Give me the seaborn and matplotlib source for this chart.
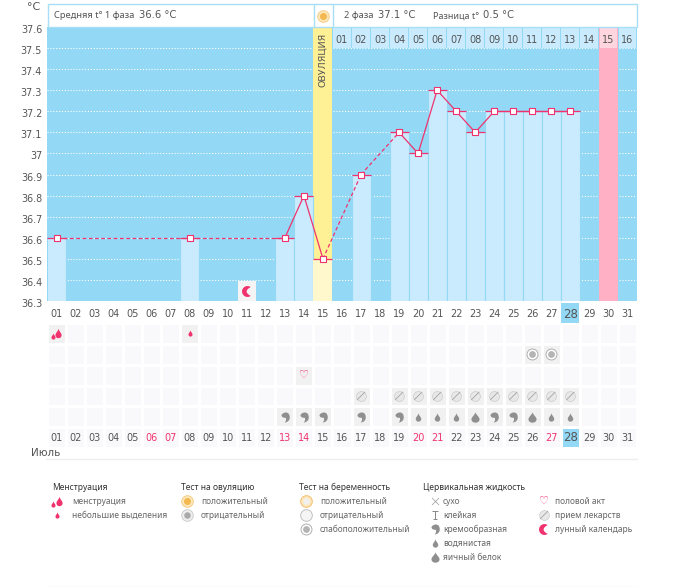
import numpy as np
import pandas as pd
import matplotlib
matplotlib.use("Agg")
import matplotlib.pyplot as plt
from matplotlib.colors import ListedColormap
from matplotlib.patches import Rectangle
from matplotlib.path import Path
from matplotlib.transforms import ScaledTranslation
import seaborn as sns

sns.set_theme(style="white")
plt.rcParams["font.family"] = ["DejaVu Sans"]

BG = "#93d8f5"
BAR = "#c9ebfd"
PINK = "#f0336e"
TEXT = "#555555"
GREY = "#8f8f8f"
SMALL_FONT = "Noto Sans"

# temperature chart
temp_days = [1, 8, 13, 14, 15, 17, 19, 20, 21, 22, 23, 24, 25, 26, 27, 28]
temps = [36.6, 36.6, 36.6, 36.8, 36.5, 36.9, 37.1, 37.0, 37.3, 37.2, 37.1, 37.2, 37.2, 37.2, 37.2, 37.2]
all_days = list(range(1, 32))
weekend_days = [6, 7, 13, 14, 20, 21, 27]
today = 28
ovulation_day = 15
cycle_days = list(range(16, 32))
cycle_labels = [f"{i:02d}" for i in range(1, 17)]
period_day = 30
moon_day = 11
y_ticks = [36.3, 36.4, 36.5, 36.6, 36.7, 36.8, 36.9, 37.0, 37.1, 37.2, 37.3, 37.4, 37.5, 37.6]
y_labels = ["36.3", "36.4", "36.5", "36.6", "36.7", "36.8", "36.9", "37", "37.1", "37.2", "37.3", "37.4", "37.5", "37.6"]

# symptom rows
big_flow_days = [1]
small_flow_days = [8]
test_days = [26, 27]
sex_days = [14]
pill_days = [17, 19, 20, 21, 22, 23, 24, 25, 26, 27, 28]
cream_days = [13, 14, 15, 17, 19, 24, 25]
water_days = [20, 21, 22, 27, 28]
egg_days = [23, 26]

header_left = "Средняя t° 1 фаза"
legend_heads = ["Менструация", "Тест на овуляцию", "Тест на беременность", "Цервикальная жидкость"]
legend_flow = ["менструация", "небольшие выделения"]
legend_ovul = ["положительный", "отрицательный"]
legend_preg = ["положительный", "отрицательный", "слабоположительный"]
legend_fluid = ["сухо", "клейкая", "кремообразная", "водянистая", "яичный белок"]
legend_other = ["половой акт", "прием лекарств", "лунный календарь"]


def make_drop(w=0.65):
    c = Path.CURVE4
    return Path([(0, 1), (0.2 * w, 0.45), (w, 0.1), (w, -0.35), (w, -0.8), (0.45 * w, -1), (0, -1),
                 (-0.45 * w, -1), (-w, -0.8), (-w, -0.35), (-w, 0.1), (-0.2 * w, 0.45), (0, 1)],
                [Path.MOVETO, c, c, c, c, c, c, c, c, c, c, c, c])


def make_comma():
    c = Path.CURVE4
    return Path([(-0.8, 0.45), (-0.7, 0.85), (-0.2, 1), (0.1, 1), (0.65, 1), (0.85, 0.5), (0.85, 0),
                 (0.85, -0.55), (0.45, -0.95), (-0.15, -1), (0.1, -0.7), (0.2, -0.35), (0.05, -0.05),
                 (-0.3, -0.1), (-0.75, 0), (-0.8, 0.45)],
                [Path.MOVETO, c, c, c, c, c, c, c, c, c, c, c, c, c, c, c])


def make_crescent():
    t = np.linspace(np.pi * 0.3, np.pi * 1.7, 30)
    outer = np.column_stack([np.cos(t), np.sin(t)])
    y = np.linspace(-0.81, 0.81, 20)
    inner = np.column_stack([0.588 - 0.75 * (1 - (y / 0.81) ** 2), y])
    return Path(np.vstack([outer, inner, outer[:1]]), closed=True)


DROP = make_drop()
EGG = make_drop(0.78)
COMMA = make_comma()
CRESCENT = make_crescent()
SLASH = Path([(-0.65, -0.65), (0.65, 0.65)])
STICKY = Path([(-0.7, 1), (0.7, 1), (0, 1), (0, -1), (-0.5, -1), (0.5, -1)],
              [Path.MOVETO, Path.LINETO, Path.MOVETO, Path.LINETO, Path.MOVETO, Path.LINETO])


def draw_icon(ax, kind, x, y):
    x = np.atleast_1d(x)
    y = np.atleast_1d(y)
    if len(y) == 1:
        y = np.repeat(y, len(x))
    kw = dict(zorder=6, clip_on=False)

    def put(marker, s, color, **extra):
        ax.scatter(x, y, marker=marker, s=s, c=color, linewidths=0, **{**kw, **extra})

    if kind == "flow":
        t = ax.transData
        for m, s, dx, dy in [(DROP, 46, 1.5, -0.5), (DROP, 20, -4, 2.5)]:
            off = ScaledTranslation(dx / 100, -dy / 100, ax.figure.dpi_scale_trans)
            ax.scatter(x, y, marker=m, s=s, c=PINK, linewidths=0, transform=t + off, **kw)
    elif kind == "spot":
        put(DROP, 20, PINK)
    elif kind == "cream":
        put(COMMA, 52, GREY)
    elif kind == "water":
        put(DROP, 36, GREY)
    elif kind == "egg":
        put(EGG, 56, GREY)
    elif kind == "pill":
        ax.scatter(x, y, marker="o", s=50, c="#e8e8e8", edgecolors="#cccccc", linewidths=0.5, **kw)
        ax.scatter(x, y, marker=SLASH, s=34, facecolors="none", edgecolors="#a4a4a4", linewidths=0.6, **{**kw, "zorder": 7})
    elif kind == "weak":
        ax.scatter(x, y, marker="o", s=62, c="white", edgecolors="#b0b0b0", linewidths=0.7, **kw)
        ax.scatter(x, y, marker="o", s=24, c="#b4b4b4", linewidths=0, **{**kw, "zorder": 7})
    elif kind == "ovul_pos":
        ax.scatter(x, y, marker="o", s=70, c="#fde7bd", edgecolors="#f5c878", linewidths=0.6, **kw)
        ax.scatter(x, y, marker="o", s=26, c="#f4b850", linewidths=0, **{**kw, "zorder": 7})
    elif kind == "ovul_neg":
        ax.scatter(x, y, marker="o", s=70, c="#eeeeee", edgecolors="#c8c8c8", linewidths=0.6, **kw)
        ax.scatter(x, y, marker="o", s=22, c="#aaaaaa", linewidths=0, **{**kw, "zorder": 7})
    elif kind == "preg_pos":
        ax.scatter(x, y, marker="o", s=70, c="#fde7bd", edgecolors="#f0c070", linewidths=0.7, **kw)
        ax.scatter(x, y, marker="o", s=22, c="#f0f0f0", linewidths=0, **{**kw, "zorder": 7})
    elif kind == "preg_neg":
        ax.scatter(x, y, marker="o", s=70, c="#f5f5f5", edgecolors="#c0c0c0", linewidths=0.7, **kw)
    elif kind == "moon":
        put(CRESCENT, 62, PINK)
    elif kind == "heart":
        for a, b in zip(x, y):
            ax.text(a, b, "♡", color=PINK, fontsize=8, ha="center", va="center", zorder=6)
    elif kind == "dry":
        ax.scatter(x, y, marker="x", s=26, c="#999999", linewidths=0.5, **kw)
    elif kind == "sticky":
        ax.scatter(x, y, marker=STICKY, s=30, facecolors="none", edgecolors="#888888", linewidths=0.7, **kw)


fig = plt.figure(figsize=(6.75, 5.87), dpi=100, facecolor="white")
W, H = 675, 587

# full figure axes in pixels, for header and legend
px = fig.add_axes([0, 0, 1, 1], zorder=5)
px.set_xlim(0, W)
px.set_ylim(H, 0)
px.axis("off")

# main temperature axes
ax = fig.add_axes([47 / W, (H - 301) / H, 590 / W, 274 / H], zorder=2)
ax.set_facecolor(BG)
ax.set_xlim(0.5, 31.5)
ax.set_ylim(36.3, 37.6)

for v in y_ticks[:-1]:
    ax.axhline(v, color="white", lw=0.8, ls=(0, (1, 1.6)), zorder=1)

# ovulation and expected period columns
ax.axvspan(ovulation_day - 0.5, ovulation_day + 0.5, color="#fdf095", lw=0, zorder=2)
ax.axvspan(period_day - 0.5, period_day + 0.5, color="#ffb0c4", lw=0, zorder=2)

df = pd.DataFrame({"day": temp_days, "temp": temps})
bars = df[df["day"] != ovulation_day]
sns.barplot(data=bars, x="day", y="temp", native_scale=True, color=BAR, saturation=1,
            width=1.0, edgecolor=BG, linewidth=0.8, ax=ax, zorder=3, errorbar=None)
sns.barplot(data=df[df["day"] == ovulation_day], x="day", y="temp", native_scale=True,
            color="#fff8cc", saturation=1, width=1.0, linewidth=0, ax=ax, zorder=3, errorbar=None)
ax.bar(moon_day, 36.395, width=0.95, color="#f4f4f4", linewidth=0, zorder=3)
draw_icon(ax, "moon", moon_day, 36.347)

# cycle day strip
for d, lab in zip(cycle_days, cycle_labels):
    c = "#ffd6e0" if d == period_day else BAR
    ax.add_patch(Rectangle((d - 0.47, 37.5), 0.94, 0.1, color=c, lw=0, zorder=4))
    ax.text(d, 37.54, lab, ha="center", va="center", fontsize=7, color=TEXT, zorder=5)

ax.hlines(temps, np.array(temp_days) - 0.5, np.array(temp_days) + 0.5, color=PINK, lw=0.9, zorder=5)
for i in range(len(temp_days) - 1):
    a, b = temp_days[i], temp_days[i + 1]
    ls = "-" if b - a == 1 else (0, (3, 2))
    sns.lineplot(x=[a, b], y=[temps[i], temps[i + 1]], color=PINK, lw=0.9, linestyle=ls,
                 sort=False, ax=ax, zorder=5, legend=False, errorbar=None)
sns.scatterplot(x=temp_days, y=temps, marker="s", s=13, color="white", edgecolor=PINK,
                linewidth=0.8, ax=ax, zorder=6, legend=False)

ax.set_xticks(all_days)
ax.set_xticklabels([f"{d:02d}" for d in all_days], fontsize=7, color=TEXT)
ax.set_yticks(y_ticks)
ax.set_yticklabels(y_labels, fontsize=6.9, color=TEXT)
ax.tick_params(axis="both", length=0)
ax.tick_params(axis="x", pad=5.5)
ax.tick_params(axis="y", pad=3.5)
ax.set_xlabel("")
ax.set_ylabel("")
for lab in ax.get_yticklabels():
    lab.set_transform(lab.get_transform() + ScaledTranslation(0, -2 / 100, fig.dpi_scale_trans))
for lab in ax.get_xticklabels():
    if lab.get_text() == f"{today:02d}":
        lab.set_fontsize(8.5)
        lab.set_transform(lab.get_transform() + ScaledTranslation(0, 1 / 100, fig.dpi_scale_trans))
for s in ax.spines.values():
    s.set_visible(False)

# today marker behind the top date row
ax.add_patch(Rectangle((today - 0.47, -22 / 274), 0.94, 20 / 274, transform=ax.get_xaxis_transform(),
                       color=BG, lw=0, zorder=0, clip_on=False))

# symptom grid
n_rows = 6
grid = np.zeros((n_rows, 31))
active = [(0, big_flow_days + small_flow_days), (1, test_days), (2, sex_days), (3, pill_days),
          (4, cream_days + water_days + egg_days)]
for r, days in active:
    for d in days:
        grid[r, d - 1] = 1
grid[5, today - 1] = 2
gx = fig.add_axes([47 / W, (H - 448) / H, 590 / W, 125 / H], zorder=3)
sns.heatmap(grid, ax=gx, cmap=ListedColormap(["#f9f9fb", "#f1f1f1", BG]), vmin=0, vmax=2, cbar=False,
            linewidths=1, linecolor="white", xticklabels=False, yticklabels=False)
gx.tick_params(length=0)

draw_icon(gx, "flow", np.array(big_flow_days) - 0.5, 0.5)
draw_icon(gx, "spot", np.array(small_flow_days) - 0.5, 0.5)
draw_icon(gx, "weak", np.array(test_days) - 0.5, 1.5)
draw_icon(gx, "heart", np.array(sex_days) - 0.5, 2.5)
draw_icon(gx, "pill", np.array(pill_days) - 0.5, 3.5)
draw_icon(gx, "cream", np.array(cream_days) - 0.5, 4.5)
draw_icon(gx, "water", np.array(water_days) - 0.5, 4.5)
draw_icon(gx, "egg", np.array(egg_days) - 0.5, 4.5)
for d in all_days:
    c = PINK if d in weekend_days else TEXT
    gx.text(d - 0.5, 5.5, f"{d:02d}", ha="center", va="center", color=c,
            fontsize=8.5 if d == today else 7)

# header
px.add_patch(Rectangle((47.5, 3.5), 589, 23.5, fc="white", ec="#a8dff7", lw=1, zorder=1))
px.plot([313.5, 313.5], [3.5, 27], color="#a8dff7", lw=1, zorder=2)
px.plot([332.5, 332.5], [3.5, 27], color="#a8dff7", lw=1, zorder=2)
draw_icon(px, "ovul_pos", 323, 16)
px.text(54, 16, header_left, fontsize=6.7, family=SMALL_FONT, color=TEXT, va="center")
px.text(139, 15.5, "36.6 °C", fontsize=7.2, color=TEXT, va="center")
px.text(344, 16, "2 фаза", fontsize=6.7, family=SMALL_FONT, color=TEXT, va="center")
px.text(378, 15.5, "37.1 °C", fontsize=7.2, color=TEXT, va="center")
px.text(433, 16, "Разница t°", fontsize=6.5, family=SMALL_FONT, color=TEXT, va="center")
px.text(483, 15.5, "0.5 °C", fontsize=7.2, color=TEXT, va="center")
px.text(34, 7, "°C", fontsize=8, color=TEXT, ha="center", va="center")
px.text(322.5, 60, "ОВУЛЯЦИЯ", fontsize=6.8, color=TEXT, rotation=90, ha="center", va="center", zorder=6)

# month line
px.text(31, 453, "Июль", fontsize=7.5, color=TEXT, va="center")
px.plot([46, 637], [458.5, 458.5], color="#eeeeee", lw=1)
px.plot([46, 637], [586.5, 586.5], color="#eeeeee", lw=1)

# legend
for x, head in zip([52, 181, 299, 423], legend_heads):
    px.text(x, 487, head, fontsize=6.1, family=SMALL_FONT, color="#333333", va="center")


def legend_col(labels, kinds, icon_x, text_x):
    for i, (lab, kind) in enumerate(zip(labels, kinds)):
        y = 501 + 14 * i
        draw_icon(px, kind, icon_x, y)
        px.text(text_x, y, lab, fontsize=6.05, family=SMALL_FONT, color="#666666", va="center")


legend_col(legend_flow, ["flow", "spot"], 57, 72)
legend_col(legend_ovul, ["ovul_pos", "ovul_neg"], 187, 201)
legend_col(legend_preg, ["preg_pos", "preg_neg", "weak"], 306, 320)
legend_col(legend_fluid, ["dry", "sticky", "cream", "water", "egg"], 435, 443)
legend_col(legend_other, ["heart", "pill", "moon"], 544, 555)

fig.savefig("out.png", dpi=100, facecolor="white")
